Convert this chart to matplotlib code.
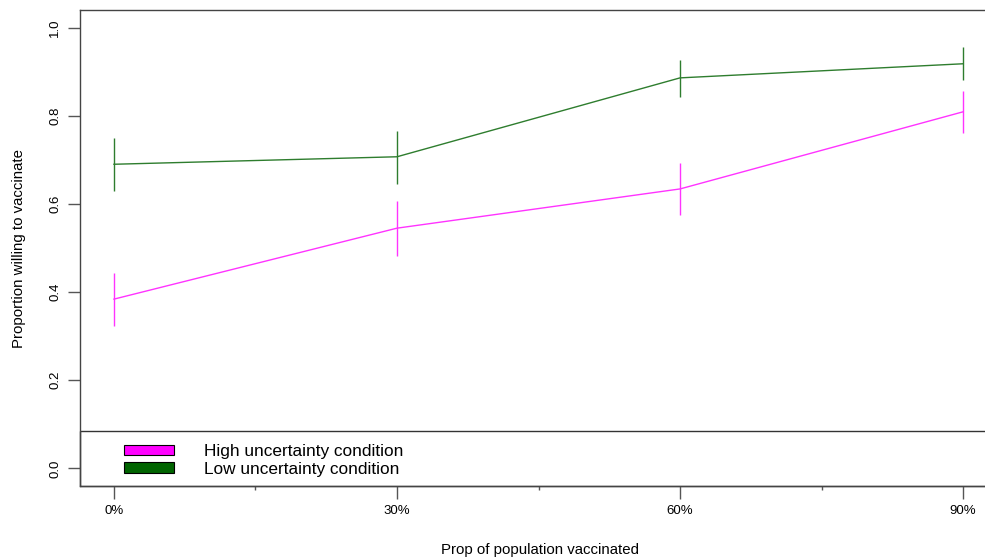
import matplotlib
matplotlib.use("Agg")
import matplotlib.pyplot as plt
from matplotlib.patches import Patch, Rectangle
import numpy as np

plt.rcParams['font.family'] = ['Liberation Sans', 'DejaVu Sans']

# data
pct = [0, 30, 60, 90]
pct_labels = ["0%", "30%", "60%", "90%"]
high_mean = [0.384, 0.545, 0.634, 0.809]
high_lo = [0.323, 0.482, 0.575, 0.761]
high_hi = [0.443, 0.607, 0.693, 0.857]
low_mean = [0.690, 0.707, 0.886, 0.918]
low_lo = [0.630, 0.645, 0.843, 0.882]
low_hi = [0.750, 0.766, 0.927, 0.957]

col_high = "#FF33FF"
col_low = "#2E7D2E"

fig = plt.figure(figsize=(9.85, 5.58), dpi=100)
ax = fig.add_axes([80/985, 72/558, 917/985, 476/558])

ax.plot(pct, high_mean, color=col_high, lw=1)
ax.vlines(pct, high_lo, high_hi, color=col_high, lw=1)
ax.plot(pct, low_mean, color=col_low, lw=1)
ax.vlines(pct, low_lo, low_hi, color=col_low, lw=1)

ax.set_xlim(-3.6, 93.6)
ax.set_ylim(-0.04, 1.04)
ax.set_xticks(pct)
ax.set_xticklabels(pct_labels)
ax.set_xticks([15, 45, 75], minor=True)
ax.set_yticks([0.0, 0.2, 0.4, 0.6, 0.8, 1.0])
ax.set_yticklabels(["0.0", "0.2", "0.4", "0.6", "0.8", "1.0"], rotation=90, va="center")
ax.tick_params(axis="both", which="major", length=9, width=1, color="#555555", labelsize=9.5)
ax.tick_params(axis="x", which="major", pad=5)
ax.tick_params(axis="y", which="major", pad=4.5)
ax.tick_params(axis="x", which="minor", length=3, width=1, color="#555555")
for s in ax.spines.values():
    s.set_color("#444444")
    s.set_linewidth(1)

ax.set_xlabel("Prop of population vaccinated", fontsize=10.8)
ax.xaxis.set_label_coords((540-80)/917, -57/476)
ax.set_ylabel("Proportion willing to vaccinate", fontsize=10.8)
ax.yaxis.set_label_coords(-54/917, 0.5)

# legend box along the bottom of the plot
ax.add_patch(Rectangle((0, 0), 1.2, 55/476, transform=ax.transAxes,
                       fill=False, edgecolor="#333333", lw=1, clip_on=False))
handles = [Patch(facecolor="#FF00FF", edgecolor="black", lw=0.8),
           Patch(facecolor="#006400", edgecolor="black", lw=0.8)]
ax.legend(handles, ["High uncertainty condition", "Low uncertainty condition"],
          loc="upper left", bbox_to_anchor=((124-80)/917, (486-444)/476),
          frameon=False, fontsize=12.4, borderpad=0, borderaxespad=0,
          handlelength=2.9, handleheight=0.55, handletextpad=1.74, labelspacing=0.16)

fig.savefig("out.png", dpi=100)
